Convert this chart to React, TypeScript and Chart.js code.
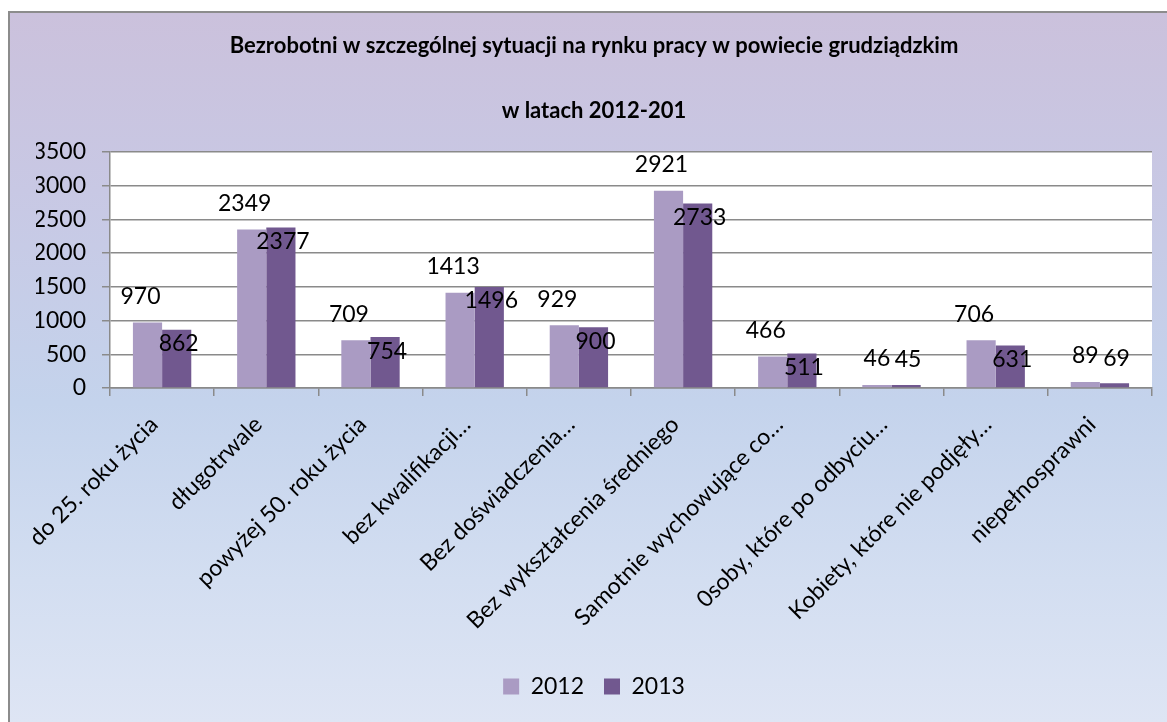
import React, { useEffect, useRef } from "react";
import { Chart, registerables } from "chart.js";

Chart.register(...registerables);

const titleLines = [
  "Bezrobotni w szczególnej sytuacji na rynku pracy w powiecie grudziądzkim",
  "w latach 2012-201",
];

const categories = [
  "do 25. roku życia",
  "długotrwale",
  "powyżej 50. roku życia",
  "bez kwalifikacji…",
  "Bez doświadczenia…",
  "Bez wykształcenia średniego",
  "Samotnie wychowujące co…",
  "0soby, które po odbyciu…",
  "Kobiety, które nie podjęły…",
  "niepełnosprawni",
];

const seriesNames = ["2012", "2013"];
const values2012 = [970, 2349, 709, 1413, 929, 2921, 466, 46, 706, 89];
const values2013 = [862, 2377, 754, 1496, 900, 2733, 511, 45, 631, 69];

const yMin = 0;
const yMax = 3500;
const yStep = 500;

const colors = ["#aa9bc3", "#71588f"];
const FONT = "Lato, 'Open Sans', sans-serif";

const plotBgPlugin = {
  id: "plotBg",
  beforeDraw(chart: any) {
    const { ctx, chartArea } = chart;
    ctx.save();
    ctx.fillStyle = "#ffffff";
    ctx.fillRect(chartArea.left, chartArea.top, chartArea.right - chartArea.left, chartArea.bottom - chartArea.top);
    ctx.restore();
  },
};

const dataLabelPlugin = {
  id: "dataLabels",
  afterDatasetsDraw(chart: any) {
    const { ctx } = chart;
    ctx.save();
    ctx.font = `23px ${FONT}`;
    ctx.fillStyle = "#000000";
    ctx.textAlign = "center";
    ctx.textBaseline = "middle";
    chart.data.datasets.forEach((ds: any, di: number) => {
      const meta = chart.getDatasetMeta(di);
      meta.data.forEach((bar: any, i: number) => {
        const v = ds.data[i];
        const h = bar.base - bar.y;
        let x = bar.x;
        let y = bar.y;
        if (di === 0) {
          x -= h < 20 ? 0 : 7;
          y -= 26;
        } else {
          x += 2;
          y = h < 20 ? y - 25 : y + 14;
        }
        ctx.fillText(String(v), x, y);
      });
    });
    ctx.restore();
  },
};

function ChartView() {
  const ref = useRef<HTMLCanvasElement | null>(null);
  useEffect(() => {
    if (!ref.current) return;
    const chart = new Chart(ref.current, {
      type: "bar",
      data: {
        labels: categories,
        datasets: [
          { label: seriesNames[0], data: values2012, backgroundColor: colors[0], borderWidth: 0 },
          { label: seriesNames[1], data: values2013, backgroundColor: colors[1], borderWidth: 0 },
        ],
      },
      options: {
        responsive: false,
        animation: false,
        layout: { padding: { left: 26, right: 15, top: 0, bottom: 14 } },
        datasets: { bar: { categoryPercentage: 0.56, barPercentage: 1 } },
        plugins: {
          title: {
            display: true,
            text: titleLines[0],
            color: "#000000",
            font: { family: FONT, size: 22, weight: "bold" },
            padding: { top: 20, bottom: 38 },
          },
          subtitle: {
            display: true,
            text: titleLines[1],
            color: "#000000",
            font: { family: FONT, size: 22, weight: "bold" },
            padding: { top: 0, bottom: 28 },
          },
          legend: {
            position: "bottom",
            labels: {
              color: "#000000",
              font: { family: FONT, size: 23 },
              boxWidth: 16,
              boxHeight: 16,
              padding: 20,
            },
          },
          tooltip: { enabled: false },
        },
        scales: {
          x: {
            offset: true,
            grid: {
              display: true,
              offset: true,
              drawOnChartArea: false,
              drawTicks: true,
              tickLength: 8,
              color: "#8a8a8a",
              lineWidth: 1.5,
            },
            border: { display: true, color: "#8a8a8a", width: 1.5 },
            ticks: {
              color: "#000000",
              font: { family: FONT, size: 23 },
              minRotation: 45,
              maxRotation: 45,
              autoSkip: false,
              padding: 15,
              labelOffset: -8,
            },
            afterFit(scale: any) {
              scale.height = 267;
            },
          },
          y: {
            min: yMin,
            max: yMax,
            ticks: {
              stepSize: yStep,
              color: "#000000",
              font: { family: FONT, size: 23 },
              padding: 16,
              callback: (v: any) => String(v),
            },
            grid: {
              color: "#8a8a8a",
              lineWidth: 1.5,
              tickLength: 8,
            },
            border: { display: true, color: "#8a8a8a", width: 1.5 },
            afterFit(scale: any) {
              scale.width = 74;
            },
          },
        },
      },
      plugins: [plotBgPlugin, dataLabelPlugin],
    });
    return () => chart.destroy();
  }, []);
  return <canvas ref={ref} width={1157} height={709} style={{ display: "block" }} />;
}

export default function App() {
  return (
    <div
      style={{
        position: "absolute",
        left: 8,
        top: 11,
        width: 1157,
        height: 709,
        borderLeft: "2px solid #8c8c8c",
        borderTop: "2px solid #8c8c8c",
        background: "linear-gradient(180deg, #cbc1dc 0%, #c8c8e4 25%, #c4d3ec 55%, #d3def1 80%, #dee5f4 100%)",
        overflow: "hidden",
      }}
    >
      <ChartView />
    </div>
  );
}
